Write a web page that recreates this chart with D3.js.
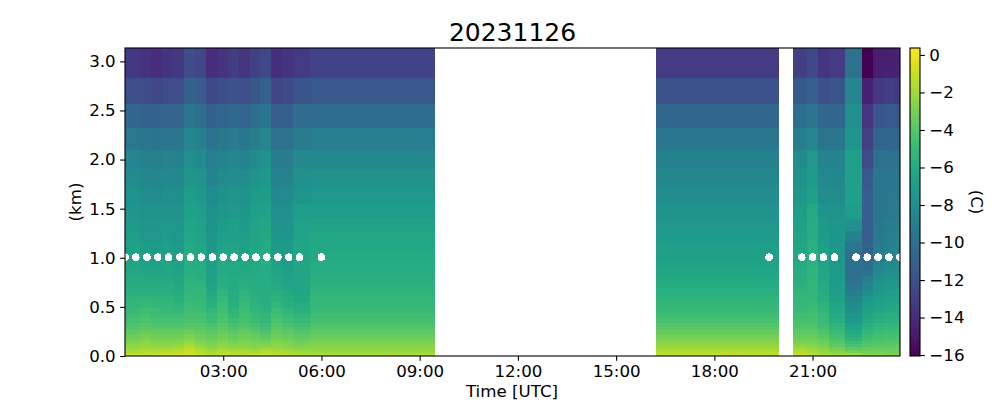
<!DOCTYPE html>
<html>
<head>
<meta charset="utf-8">
<script src="https://cdn.jsdelivr.net/npm/d3@7"></script>
<style>
html,body{margin:0;padding:0;background:#fff}
svg{display:block}
text{font-family:"DejaVu Sans",sans-serif;fill:#000}
</style>
</head>
<body>
<svg id="c" width="1000" height="400"></svg>
<script>
const title = "20231126";
const xLabel = "Time [UTC]";
const yLabel = "(km)";
const cbLabel = "(C)";
const xTicks = [3, 6, 9, 12, 15, 18, 21];
const xTickLabels = ["03:00", "06:00", "09:00", "12:00", "15:00", "18:00", "21:00"];
const yTicks = [0, 0.5, 1, 1.5, 2, 2.5, 3];
const cbTicks = [0, -2, -4, -6, -8, -10, -12, -14, -16];

const heightEdges = [0,.03,.06,.09,.12,.15,.18,.22,.26,.30,.34,.39,.44,.49,.55,.61,.67,.74,.81,.89,.97,1.06,1.16,1.27,1.39,1.55,1.72,1.90,2.10,2.32,2.57,2.83,3.136];

const columnStart = [0,.46,.80,1.13,1.47,1.80,2.14,2.48,2.81,3.15,3.49,3.82,4.13,4.46,4.80,5.14,5.66,16.21,20.41,20.83,21.16,21.49,21.99,22.51,22.84,23.18,23.52];
const columnEnd   = [.46,.80,1.13,1.47,1.80,2.14,2.48,2.81,3.15,3.49,3.82,4.13,4.46,4.80,5.14,5.66,9.47,19.97,20.83,21.16,21.49,21.99,22.51,22.84,23.18,23.52,23.67];

const temperature = [
[-1.2,-1.8,-2.2,-2.5,-2.8,-3.1,-3.4,-3.7,-4.0,-4.3,-4.5,-4.7,-5.0,-5.2,-5.4,-5.6,-5.8,-6.0,-6.2,-6.4,-6.6,-6.7,-6.9,-7.1,-7.4,-7.7,-8.2,-8.6,-9.5,-10.7,-12.1,-13.4],
[-1.1,-1.6,-2.0,-2.3,-2.5,-2.8,-3.1,-3.4,-3.7,-4.0,-4.3,-4.5,-4.8,-5.1,-5.3,-5.6,-5.8,-6.1,-6.3,-6.6,-6.8,-7.0,-7.3,-7.5,-7.7,-8.0,-8.4,-8.9,-9.7,-10.9,-12.3,-13.7],
[-1.0,-1.6,-2.1,-2.4,-2.7,-3.0,-3.3,-3.6,-3.9,-4.2,-4.4,-4.7,-4.9,-5.2,-5.4,-5.6,-5.9,-6.1,-6.4,-6.6,-6.8,-7.1,-7.3,-7.5,-7.8,-8.2,-8.5,-9.0,-9.8,-11,-12.5,-13.9],
[-0.9,-1.5,-2.0,-2.4,-2.7,-3.0,-3.3,-3.6,-3.9,-4.2,-4.5,-4.7,-5,-5.2,-5.4,-5.6,-5.8,-6.0,-6.3,-6.4,-6.7,-6.9,-7.1,-7.3,-7.6,-7.9,-8.3,-8.8,-9.6,-10.8,-12.3,-13.5],
[-0.9,-1.4,-1.9,-2.3,-2.6,-2.9,-3.3,-3.6,-3.9,-4.2,-4.5,-4.8,-5.1,-5.4,-5.6,-5.8,-6.1,-6.3,-6.5,-6.7,-6.9,-7.1,-7.3,-7.5,-7.7,-8,-8.4,-8.9,-9.6,-10.8,-12.2,-13.4],
[-0.7,-1.0,-1.4,-1.8,-2.2,-2.6,-3,-3.4,-3.7,-4,-4.3,-4.5,-4.7,-4.9,-5.1,-5.2,-5.4,-5.5,-5.6,-5.8,-5.9,-6.1,-6.3,-6.4,-6.7,-7,-7.4,-7.9,-8.6,-9.7,-11.1,-12.3],
[-1.0,-1.5,-2.0,-2.4,-2.8,-3.1,-3.3,-3.6,-3.9,-4.1,-4.3,-4.5,-4.7,-5,-5.1,-5.3,-5.4,-5.6,-5.7,-5.9,-6.1,-6.3,-6.5,-6.6,-6.9,-7.2,-7.6,-8.2,-8.9,-10.1,-11.4,-12.6],
[-1.3,-1.9,-2.4,-2.7,-3,-3.3,-3.6,-3.9,-4.1,-4.4,-4.7,-5,-5.3,-5.6,-5.9,-6.1,-6.4,-6.6,-6.8,-7,-7.1,-7.3,-7.5,-7.7,-7.9,-8.2,-8.7,-9.1,-9.9,-11.1,-12.4,-13.9],
[-1.1,-1.6,-2.1,-2.4,-2.6,-2.9,-3.2,-3.5,-3.7,-4,-4.2,-4.4,-4.6,-4.8,-5,-5.4,-5.6,-5.8,-6,-6.1,-6.3,-6.5,-6.8,-7,-7.4,-7.7,-8.2,-8.7,-9.5,-10.8,-12.1,-13.5],
[-1.2,-1.8,-2.3,-2.6,-3.0,-3.3,-3.6,-3.9,-4.2,-4.5,-4.8,-5.1,-5.4,-5.6,-5.8,-5.9,-6,-6,-6.1,-6.2,-6.3,-6.5,-6.7,-6.8,-7.2,-7.5,-8,-8.5,-9.3,-10.5,-11.9,-13.1],
[-1.3,-1.8,-2.3,-2.6,-2.8,-3.1,-3.3,-3.6,-3.9,-4.2,-4.4,-4.6,-4.8,-5,-5.2,-5.4,-5.6,-5.8,-6.1,-6.3,-6.6,-6.8,-6.9,-7.1,-7.4,-7.7,-8.2,-8.7,-9.6,-10.8,-12.2,-13.5],
[-1.2,-1.9,-2.4,-2.7,-3,-3.2,-3.5,-3.9,-4.3,-4.5,-4.8,-5,-5.3,-5.5,-5.6,-5.7,-5.8,-5.9,-6,-6.1,-6.2,-6.3,-6.4,-6.5,-6.8,-7.1,-7.6,-8.2,-9,-10.2,-11.6,-12.9],
[-1.0,-1.6,-2.2,-2.7,-3.1,-3.5,-3.9,-4.3,-4.6,-4.9,-5.1,-5.3,-5.5,-5.7,-5.8,-5.9,-5.9,-5.9,-5.9,-5.9,-5.9,-6,-6.1,-6.2,-6.6,-7,-7.3,-7.8,-8.5,-9.6,-11,-12.5],
[-1.2,-1.7,-2.2,-2.5,-2.7,-3,-3.3,-3.5,-3.8,-4.1,-4.3,-4.6,-4.9,-5.2,-5.5,-5.7,-6,-6.2,-6.4,-6.7,-6.9,-7.2,-7.4,-7.6,-7.9,-8.3,-8.8,-9.3,-10,-11.3,-12.6,-13.9],
[-1.4,-1.9,-2.4,-2.7,-2.9,-3.2,-3.5,-3.8,-4.1,-4.4,-4.7,-5,-5.3,-5.6,-5.9,-6.1,-6.4,-6.6,-6.8,-7,-7.1,-7.2,-7.5,-7.6,-7.9,-8.2,-8.7,-9.2,-9.9,-11.1,-12.3,-13.6],
[-1.6,-2.1,-2.6,-2.9,-3.2,-3.5,-3.8,-4.1,-4.4,-4.7,-5,-5.3,-5.6,-5.9,-6.2,-6.3,-6.4,-6.4,-6.4,-6.4,-6.4,-6.4,-6.5,-6.6,-7,-7.5,-7.9,-8.3,-9.2,-10.3,-11.7,-13.3],
[-1.8,-2.2,-2.5,-2.7,-2.9,-3.2,-3.5,-3.8,-4.1,-4.3,-4.5,-4.7,-4.9,-5.1,-5.2,-5.4,-5.5,-5.6,-5.8,-5.9,-6.0,-6.2,-6.3,-6.5,-7.0,-7.3,-7.8,-8.3,-9.1,-10.3,-11.6,-12.8],
[-1.2,-1.6,-2.0,-2.3,-2.5,-2.9,-3.2,-3.5,-3.8,-4.1,-4.4,-4.7,-5,-5.2,-5.4,-5.7,-5.9,-6.1,-6.3,-6.5,-6.7,-6.9,-7.1,-7.3,-7.6,-8,-8.4,-8.9,-9.6,-10.7,-11.9,-13.2],
[-1.0,-1.6,-2.1,-2.5,-2.9,-3.2,-3.5,-3.8,-4.1,-4.3,-4.5,-4.7,-4.9,-5.1,-5.2,-5.4,-5.5,-5.7,-5.8,-6,-6.2,-6.3,-6.5,-6.7,-7,-7.3,-7.7,-8.2,-9.1,-10.2,-11.5,-13.0],
[-1.6,-1.9,-2.3,-2.6,-2.9,-3.2,-3.5,-3.8,-4,-4.2,-4.4,-4.6,-4.8,-5,-5.1,-5.2,-5.3,-5.3,-5.4,-5.5,-5.6,-5.7,-5.8,-5.9,-6.1,-6.7,-7.1,-7.3,-8.5,-9.6,-11,-12.4],
[-1.9,-2.3,-2.6,-3,-3.3,-3.6,-3.9,-4.2,-4.5,-4.7,-4.9,-5.1,-5.3,-5.5,-5.7,-5.8,-6,-6.2,-6.3,-6.5,-6.6,-6.8,-7,-7.2,-7.6,-8,-8.3,-8.7,-9.6,-10.7,-12.1,-13.5],
[-2,-2.6,-3.2,-3.7,-4,-4.3,-4.6,-4.9,-5.2,-5.4,-5.7,-6,-6.2,-6.4,-6.7,-6.9,-7,-7.1,-7.2,-7.2,-7.3,-7.3,-7.4,-7.4,-7.7,-8.1,-8.4,-8.7,-9.6,-10.7,-11.8,-13.2],
[-2,-3.2,-3.9,-4.4,-4.8,-5.3,-5.7,-6.1,-6.5,-6.8,-7.2,-7.5,-7.9,-8.2,-8.6,-9.1,-9.6,-10,-10.1,-10.1,-9.9,-9.6,-8.9,-7.8,-7.0,-6.8,-6.7,-6.8,-7.5,-7.9,-8.5,-10],
[-2.6,-3.2,-3.6,-4,-4.3,-4.6,-4.9,-5.2,-5.5,-5.8,-6.1,-6.4,-6.7,-7,-7.4,-8,-8.5,-9.1,-9.7,-10.3,-10.7,-11,-11.2,-11.3,-11.3,-11.3,-11.5,-12.3,-13,-13.6,-14.6,-16],
[-2.7,-3.2,-3.6,-3.9,-4.2,-4.4,-4.6,-4.9,-5.2,-5.4,-5.7,-6,-6.3,-6.6,-6.9,-7.2,-7.5,-7.9,-8.3,-8.7,-9,-9.2,-9.4,-9.5,-9.6,-9.6,-9.7,-10,-10.8,-11.7,-13.4,-14.7],
[-2.9,-3.3,-3.6,-3.9,-4.1,-4.3,-4.6,-4.8,-5,-5.3,-5.5,-5.7,-6.1,-6.3,-6.6,-6.9,-7.2,-7.5,-7.9,-8.2,-8.6,-8.9,-9.1,-9.2,-9.4,-9.5,-9.6,-9.9,-10.6,-11.5,-13,-14.6],
[-2.8,-3.2,-3.5,-3.7,-3.9,-4.2,-4.4,-4.7,-5,-5.2,-5.5,-5.8,-6.1,-6.3,-6.5,-6.8,-7.1,-7.4,-7.7,-8,-8.3,-8.6,-8.8,-9,-9.2,-9.4,-9.6,-10,-10.8,-11.8,-13.3,-14.5]
];

const markerTimes = [0,.33,.67,1,1.33,1.67,2,2.33,2.67,3,3.33,3.67,4,4.33,4.67,5,5.33,6,19.67,20.67,21,21.33,21.67,22.33,22.67,23,23.33,23.67];
const markerHeight = [1,1,1,1,1,1,1,1,1,1,1,1,1,1,1,1,1,1,1,1,1,1,1,1,1,1,1,1];

const cbDomain = [-16.05, 0.37];

const svg = d3.select("#c");
const box = {l:125, r:900, t:48, b:356};
const x = d3.scaleLinear().domain([0,23.67]).range([box.l, box.r]);
const y = d3.scaleLinear().domain([0,3.136]).range([box.b, box.t]);
const color = d3.scaleSequential(d3.interpolateViridis).domain(cbDomain);

const defs = svg.append("defs");
defs.append("clipPath").attr("id","plot").append("rect")
  .attr("x",box.l).attr("y",box.t).attr("width",box.r-box.l).attr("height",box.b-box.t);

// heat cells
const cells = [];
temperature.forEach((col,i)=>col.forEach((v,j)=>cells.push({i,j,v})));
svg.append("g").attr("clip-path","url(#plot)").selectAll("rect").data(cells).join("rect")
  .attr("shape-rendering","crispEdges")
  .attr("x",d=>x(columnStart[d.i]))
  .attr("width",d=>x(columnEnd[d.i])-x(columnStart[d.i]))
  .attr("y",d=>y(heightEdges[d.j+1]))
  .attr("height",d=>y(heightEdges[d.j])-y(heightEdges[d.j+1]))
  .attr("fill",d=>color(d.v));

// markers
svg.append("g").attr("clip-path","url(#plot)").append("g").attr("transform","translate(0,-0.6)")
  .selectAll("circle").data(markerTimes).join("circle")
  .attr("shape-rendering","crispEdges")
  .attr("cx",d=>x(d)).attr("cy",(d,i)=>y(markerHeight[i])).attr("r",3.8).attr("fill","#fff");

// axes
const tickLen = 4.86, sw = 1.1, fs = 16.67;
function style(g){
  g.select(".domain").remove();
  g.selectAll(".tick line").attr("stroke","#000").attr("stroke-width",sw);
  g.selectAll(".tick text").attr("font-size",fs).attr("font-family","DejaVu Sans").attr("fill","#000");
}
svg.append("g").attr("transform",`translate(0,${box.b})`)
  .call(d3.axisBottom(x).tickValues(xTicks).tickFormat((d,i)=>xTickLabels[i]).tickSize(tickLen).tickPadding(4.5))
  .call(style);
svg.append("g").attr("transform",`translate(${box.l},0)`)
  .call(d3.axisLeft(y).tickValues(yTicks).tickFormat(d3.format(".1f")).tickSize(tickLen).tickPadding(4.5))
  .call(style);

svg.append("rect").attr("x",box.l).attr("y",box.t).attr("width",box.r-box.l).attr("height",box.b-box.t)
  .attr("fill","none").attr("stroke","#000").attr("stroke-width",sw);

// colorbar
const cb = {l:910, r:920};
const cbY = d3.scaleLinear().domain(cbDomain).range([box.b, box.t]);
const cbSteps = d3.range(box.t, box.b);
svg.append("g").selectAll("rect").data(cbSteps).join("rect")
  .attr("shape-rendering","crispEdges")
  .attr("x",cb.l).attr("width",cb.r-cb.l).attr("y",d=>d).attr("height",1)
  .attr("fill",d=>color(cbY.invert(d+0.5)));
svg.append("g").attr("transform",`translate(${cb.r},0)`)
  .call(d3.axisRight(cbY).tickValues(cbTicks).tickFormat(d=>d3.format("d")(d).replace("-","\u2212")).tickSize(tickLen).tickPadding(4.5))
  .call(style);
svg.append("rect").attr("x",cb.l).attr("y",box.t).attr("width",cb.r-cb.l).attr("height",box.b-box.t)
  .attr("fill","none").attr("stroke","#000").attr("stroke-width",sw);

// text
svg.append("text").attr("x",512.5).attr("y",41).attr("text-anchor","middle").attr("font-size",25).text(title);
svg.append("text").attr("x",512).attr("y",396.5).attr("text-anchor","middle").attr("font-size",fs).text(xLabel);
svg.append("text").attr("transform","translate(81,202) rotate(-90)").attr("text-anchor","middle").attr("font-size",fs).text(yLabel);
svg.append("text").attr("transform","translate(971,202) rotate(90)").attr("text-anchor","middle").attr("font-size",fs).text(cbLabel);
</script>
</body>
</html>
